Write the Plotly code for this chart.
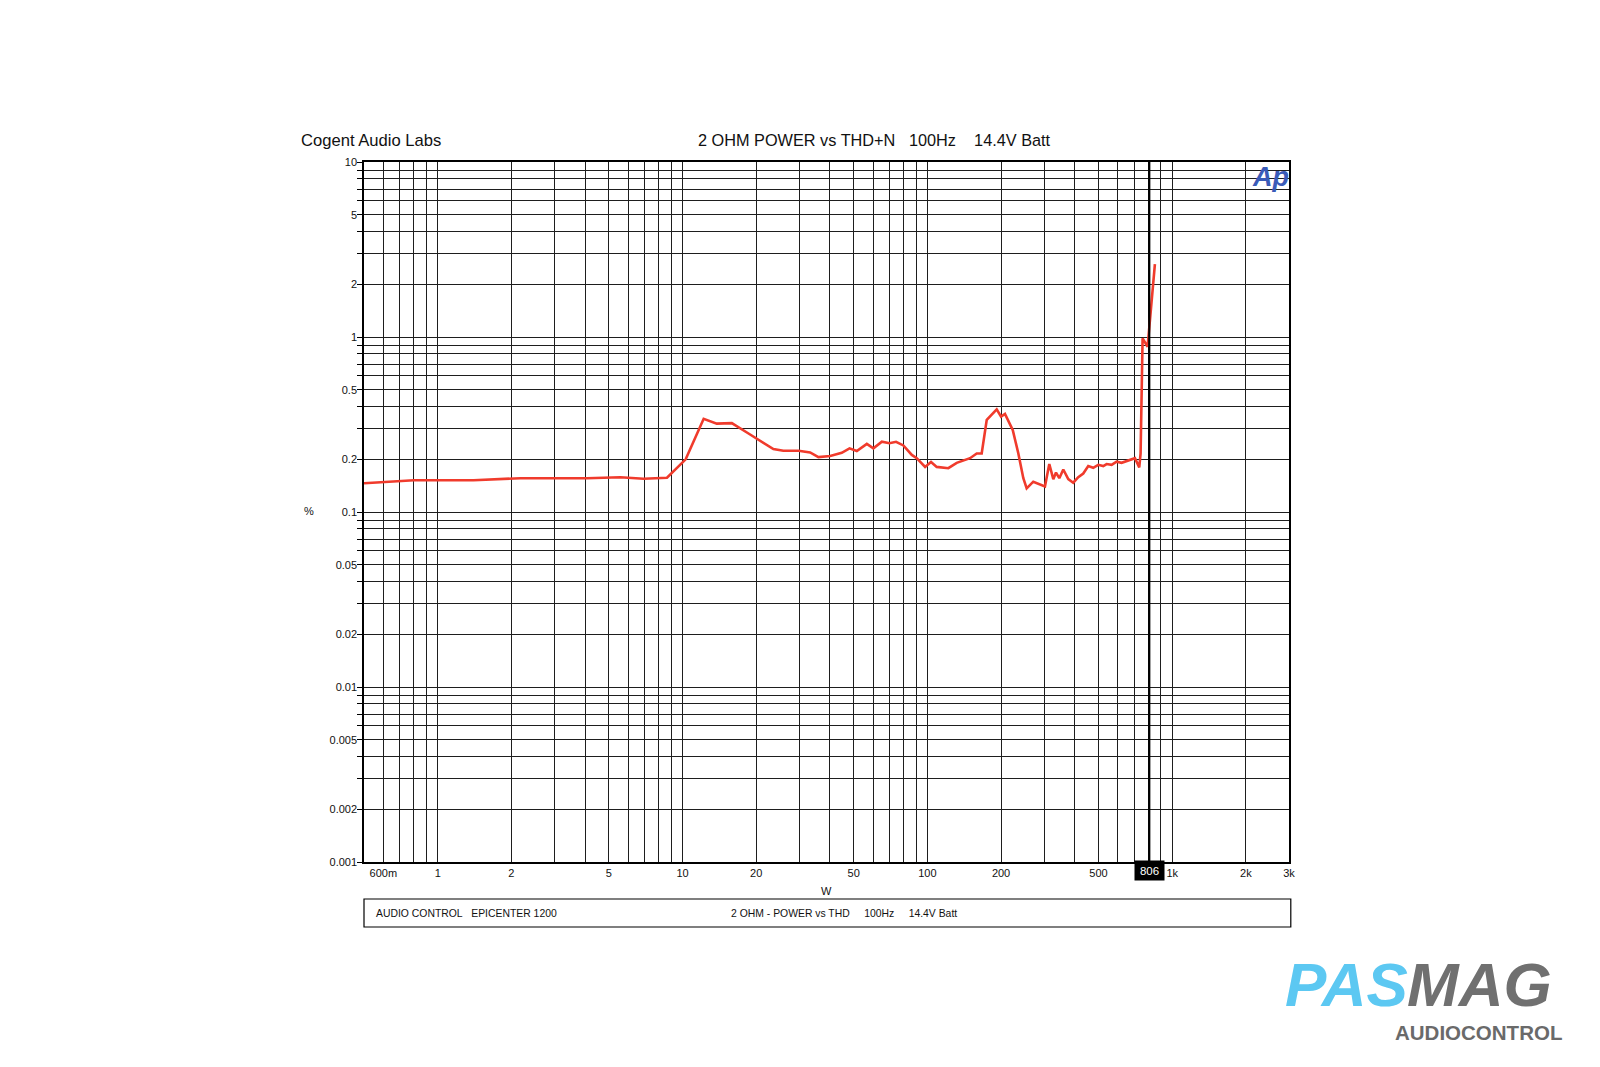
import math
import plotly.graph_objects as go

# ---------------- data ----------------
power_w = [0.5, 0.8, 1.4, 2.18, 4.07, 5.57, 6.93, 8.64, 10.3, 12.2, 13.8, 15.9,
           18.6, 23.5, 25.8, 29.8, 33.2, 35.9, 40.1, 44.7, 48.1, 51.5, 56.6,
           60.2, 65.2, 70.0, 74.5, 79.8, 86.4, 90.5, 97.9, 103.5, 109.2, 121.8,
           131.8, 140.3, 149.4, 159.1, 166.7, 174.8, 192.0, 200.0, 207.5, 223.2,
           235.3, 246.6, 254.5, 270.8, 288.4, 302.2, 314.8, 326.9, 335.3, 345.9,
           359.1, 376.3, 394.4, 413.4, 433.3, 454.1, 476.0, 498.9, 523.0, 539.8,
           565.7, 593.0, 621.4, 651.4, 704.4, 733.7, 743.0, 757.0, 793.6, 850.0]
thd_pct = [0.146, 0.152, 0.152, 0.156, 0.156, 0.158, 0.155, 0.157, 0.200, 0.341,
           0.320, 0.322, 0.281, 0.229, 0.224, 0.224, 0.219, 0.206, 0.209, 0.218,
           0.231, 0.223, 0.245, 0.231, 0.252, 0.247, 0.252, 0.240, 0.212, 0.203,
           0.181, 0.193, 0.181, 0.178, 0.191, 0.196, 0.203, 0.216, 0.216, 0.336,
           0.386, 0.351, 0.363, 0.294, 0.216, 0.156, 0.1365, 0.149, 0.144, 0.140,
           0.188, 0.154, 0.168, 0.156, 0.175, 0.154, 0.147, 0.158, 0.166, 0.183,
           0.179, 0.186, 0.183, 0.188, 0.186, 0.194, 0.191, 0.196, 0.203, 0.180,
           0.216, 0.983, 0.880, 2.61]

cursor_w = 806

x_range_w = [0.5, 3000]
y_range_pct = [0.001, 10]

x_grid = [0.5, 0.6, 0.7, 0.8, 0.9,
          1, 2, 3, 4, 5, 6, 7, 8, 9,
          10, 20, 30, 40, 50, 60, 70, 80, 90,
          100, 200, 300, 400, 500, 600, 700, 800, 900,
          1000, 2000, 3000]
x_labels = {0.6: "600m", 1: "1", 2: "2", 5: "5", 10: "10", 20: "20", 50: "50",
            100: "100", 200: "200", 500: "500", 1000: "1k", 2000: "2k", 3000: "3k"}

y_grid = [m * 10 ** e for e in range(-3, 1) for m in range(1, 10)] + [10]
y_labels = {0.001: "0.001", 0.002: "0.002", 0.005: "0.005", 0.01: "0.01",
            0.02: "0.02", 0.05: "0.05", 0.1: "0.1", 0.2: "0.2", 0.5: "0.5",
            1: "1", 2: "2", 5: "5", 10: "10"}

title_left = "Cogent Audio Labs"
title_main = "2 OHM POWER vs THD+N\u00a0\u00a0\u00a0100Hz\u00a0\u00a0\u00a0\u00a014.4V Batt"
box_left = "AUDIO CONTROL\u00a0\u00a0\u00a0EPICENTER 1200"
box_mid = "2 OHM - POWER vs THD\u00a0\u00a0\u00a0\u00a0\u00a0100Hz\u00a0\u00a0\u00a0\u00a0\u00a014.4V Batt"

# ---------------- layout geometry (page pixels) ----------------
FW, FH = 1600, 1067
OFF = 8  # default body margin of the html page
L, R, T, B = 363.5, 1289.2, 162, 862
PW, PH = R - L, B - T


def px(xp):
    return (xp - L) / PW


def py(yp):
    return (B - yp) / PH


def ylab(v):
    for k, s in y_labels.items():
        if abs(k - v) < 1e-12:
            return s
    return ""


def xlab(v):
    for k, s in x_labels.items():
        if abs(k - v) < 1e-9:
            return s
    return ""


FONT = "Liberation Sans, Arial, sans-serif"
GRID = "#1e1e1e"

fig = go.Figure()
fig.add_trace(go.Scatter(x=power_w, y=thd_pct, mode="lines",
                         line=dict(color="#F03B2C", width=2.6),
                         showlegend=False, hoverinfo="x+y"))
fig.add_trace(go.Scatter(x=[cursor_w, cursor_w], y=y_range_pct, mode="lines",
                         line=dict(color="#000000", width=2.2),
                         showlegend=False, hoverinfo="skip"))

fig.update_layout(
    width=FW, height=FH,
    margin=dict(l=L - OFF, r=FW - R + OFF, t=T - OFF, b=FH - B + OFF),
    paper_bgcolor="white", plot_bgcolor="white",
    font=dict(family=FONT, color="#111111", size=11),
    xaxis=dict(type="log",
               range=[math.log10(x_range_w[0]), math.log10(x_range_w[1])],
               tickmode="array", tickvals=x_grid,
               ticktext=[xlab(v) for v in x_grid],
               showgrid=True, gridcolor=GRID, gridwidth=1.15,
               showline=True, linecolor="#000000", linewidth=1.5, mirror=True,
               ticks="", tickfont=dict(size=11, family=FONT), zeroline=False,
               fixedrange=True),
    yaxis=dict(type="log",
               range=[math.log10(y_range_pct[0]), math.log10(y_range_pct[1])],
               tickmode="array", tickvals=y_grid,
               ticktext=[ylab(v) for v in y_grid],
               showgrid=True, gridcolor=GRID, gridwidth=1.15,
               showline=True, linecolor="#000000", linewidth=1.5, mirror=True,
               ticks="outside", ticklen=5, tickcolor="#000000",
               ticklabelstandoff=-2,
               tickfont=dict(size=11, family=FONT), zeroline=False,
               fixedrange=True),
)

ann = []
ann.append(dict(text=title_left, x=px(298), y=py(140), xref="paper", yref="paper",
                xanchor="left", yanchor="middle", showarrow=False,
                font=dict(size=16.6, family=FONT, color="#111111")))
ann.append(dict(text=title_main, x=px(696), y=py(140), xref="paper", yref="paper",
                xanchor="left", yanchor="middle", showarrow=False,
                font=dict(size=16.3, family=FONT, color="#111111")))
ann.append(dict(text="%", x=px(308), y=py(511), xref="paper", yref="paper",
                xanchor="center", yanchor="middle", showarrow=False,
                font=dict(size=11, family=FONT)))
ann.append(dict(text="W", x=px(826), y=py(891), xref="paper", yref="paper",
                xanchor="center", yanchor="middle", showarrow=False,
                font=dict(size=11, family=FONT)))
ann.append(dict(text=str(cursor_w), x=math.log10(cursor_w), y=py(870.5), xref="x",
                yref="paper", xanchor="center", yanchor="middle", showarrow=False,
                bgcolor="#000000", borderpad=0, width=29, height=19,
                font=dict(size=11.5, family=FONT, color="#ffffff")))
ann.append(dict(text=box_left, x=px(373.5), y=py(913), xref="paper", yref="paper",
                xanchor="left", yanchor="middle", showarrow=False,
                font=dict(size=10.4, family=FONT)))
ann.append(dict(text=box_mid, x=px(728.5), y=py(913), xref="paper", yref="paper",
                xanchor="left", yanchor="middle", showarrow=False,
                font=dict(size=10.4, family=FONT)))
ann.append(dict(text="<b><i>Ap</i></b>", x=px(1271), y=py(177), xref="paper",
                yref="paper", xanchor="center", yanchor="middle", showarrow=False,
                font=dict(size=27, family=FONT, color="#3A5BB8")))
ann.append(dict(text="<b><i>PAS</i></b>", x=px(1410), y=py(984), xref="paper",
                yref="paper", xanchor="right", yanchor="middle", showarrow=False,
                font=dict(size=62, family=FONT, color="#5CC8F2")))
ann.append(dict(text="<b><i>MAG</i></b>", x=px(1405), y=py(984), xref="paper",
                yref="paper", xanchor="left", yanchor="middle", showarrow=False,
                font=dict(size=62, family=FONT, color="#707070")))
ann.append(dict(text="<b>AUDIOCONTROL</b>", x=px(1564), y=py(1032), xref="paper",
                yref="paper", xanchor="right", yanchor="middle", showarrow=False,
                font=dict(size=20.5, family=FONT, color="#6A6A6A")))
fig.update_layout(annotations=ann)

fig.add_shape(type="rect", xref="paper", yref="paper",
              x0=0, x1=px(1291), y0=py(927), y1=py(899),
              line=dict(color="#000000", width=1.2), fillcolor="rgba(0,0,0,0)")

fig.write_html("out.html")
